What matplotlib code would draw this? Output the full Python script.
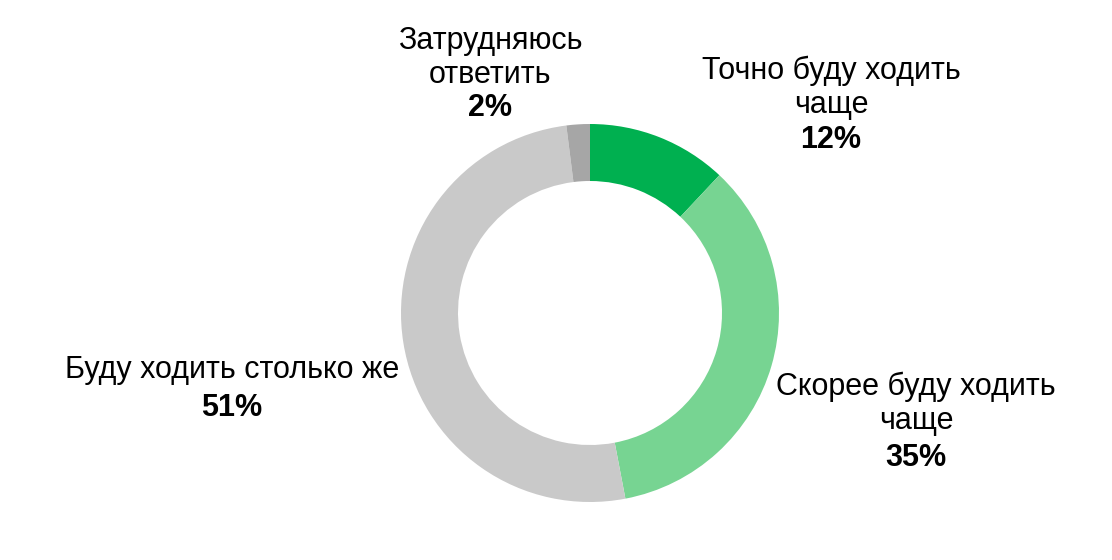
import matplotlib.pyplot as plt

labels = ['Точно буду ходить\nчаще', 'Скорее буду ходить\nчаще', 'Буду ходить столько же', 'Затрудняюсь\nответить']
values = [12, 35, 51, 2]
colors = ['#00B050', '#77D492', '#C9C9C9', '#A6A6A6']
# label block centre and percentage centre (pixel coords, y from top)
label_x = [831, 916, 232, 490]
label_y = [88, 404, 370, 58]
pct_y = [140, 458, 408, 108]

plt.rcParams['font.family'] = ['Liberation Sans', 'DejaVu Sans']

fig = plt.figure(figsize=(11.12, 5.6), dpi=100)
ax = fig.add_axes([0, 0, 1, 1])

ax.pie(values, colors=colors, startangle=90, counterclock=False,
       center=(590, 247), radius=189, frame=True,
       wedgeprops=dict(width=57, edgecolor='none'))
ax.set_xlim(0, 1112)
ax.set_ylim(0, 560)
ax.axis('off')

for lab, v, x, y, py in zip(labels, values, label_x, label_y, pct_y):
    ax.text(x, 560 - y, lab, ha='center', va='center', fontsize=22, linespacing=1.15)
    ax.text(x, 560 - py, f'{v}%', ha='center', va='center', fontsize=22, fontweight='bold')

fig.savefig('out.png', dpi=100, facecolor='white')
